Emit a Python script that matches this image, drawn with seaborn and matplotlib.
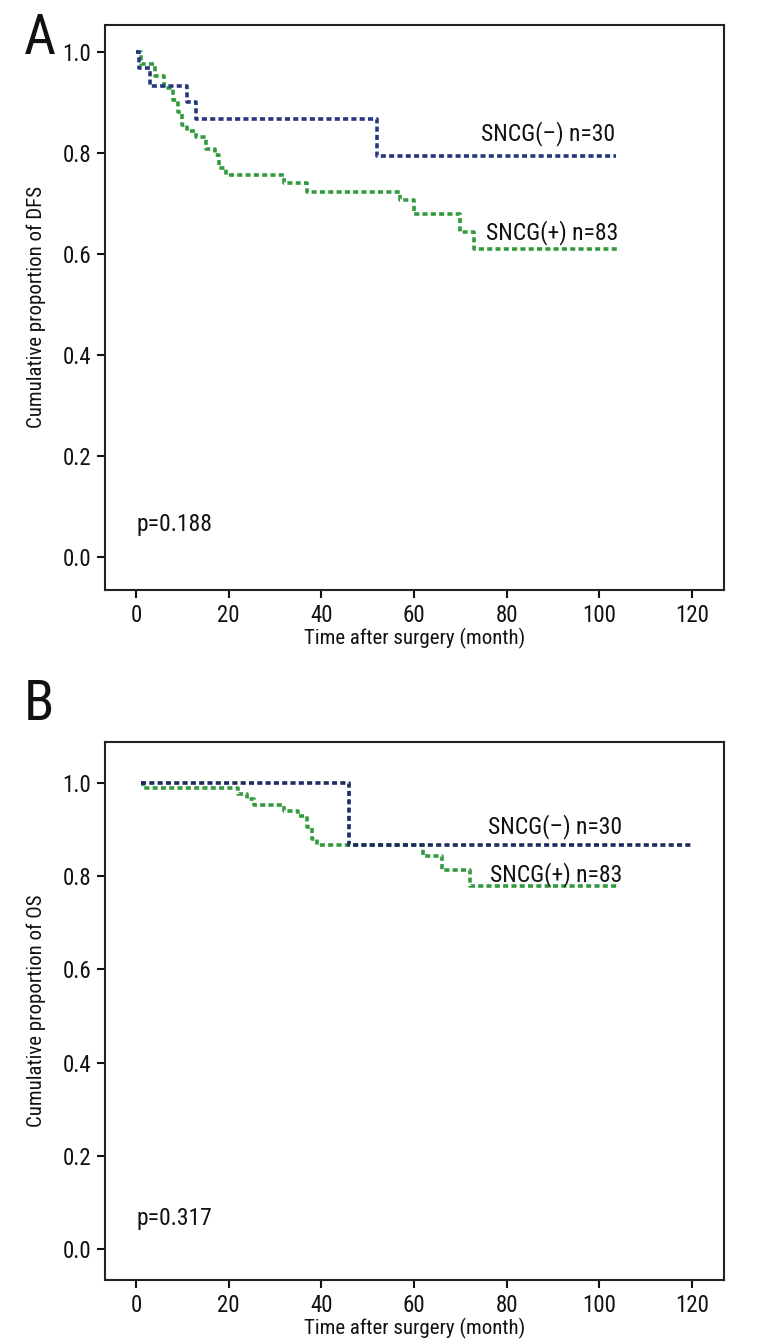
import matplotlib
matplotlib.use("Agg")
import matplotlib.pyplot as plt
from matplotlib import font_manager as fm
import seaborn as sns

sns.set_theme(style="white")

# choose a condensed face if one is installed
_fam = None
_stretch = 'normal'
_names = sorted({f.name for f in fm.fontManager.ttflist})
for pref in ['Liberation Sans Narrow', 'Roboto Condensed', 'Open Sans Condensed',
             'DejaVu Sans Condensed', 'Noto Sans Condensed']:
    if pref in _names:
        _fam = pref
        break
if _fam is None:
    for f in fm.fontManager.ttflist:
        n = f.name.lower()
        if ('narrow' in n or 'condensed' in n) and 'mono' not in n and 'serif' not in n:
            _fam = f.name
            break
if _fam is None:
    for f in fm.fontManager.ttflist:
        if f.name == 'DejaVu Sans' and str(f.stretch) in ('condensed', 'semi-condensed'):
            _fam = 'DejaVu Sans'
            _stretch = 'condensed'
            break
if _fam is None:
    _fam = 'Roboto'
plt.rcParams['font.family'] = [_fam, 'DejaVu Sans']
plt.rcParams['font.stretch'] = _stretch

# Panel A (DFS)
a_neg_time = [0, 0.6, 3, 11, 13, 52, 103.5]
a_neg_surv = [1.0, 0.967, 0.933, 0.900, 0.867, 0.793, 0.793]
a_pos_time = [0, 1, 4, 6, 8, 9, 10, 11, 13, 15, 17, 18, 19.5, 32, 37, 57, 60, 70, 73, 104]
a_pos_surv = [1.0, 0.976, 0.952, 0.928, 0.904, 0.880, 0.855, 0.843, 0.831, 0.807,
              0.795, 0.771, 0.756, 0.740, 0.723, 0.706, 0.679, 0.644, 0.610, 0.610]

# Panel B (OS)
b_neg_time = [1, 46, 120]
b_neg_surv = [1.0, 0.867, 0.867]
b_pos_time = [1, 1.5, 22, 24, 25.5, 32, 35, 37, 38, 39, 62, 66, 72, 104]
b_pos_surv = [1.0, 0.988, 0.976, 0.964, 0.952, 0.940, 0.928, 0.904, 0.880, 0.867,
              0.843, 0.812, 0.778, 0.778]

x_ticks = [0, 20, 40, 60, 80, 100, 120]
y_ticks = [0.0, 0.2, 0.4, 0.6, 0.8, 1.0]

blue = "#27377f"
blue_b = "#1c2a5e"
green = "#339b3f"

fig = plt.figure(figsize=(7.68, 13.44), dpi=100)
axA = fig.add_axes([0.1367, 1 - 590 / 1344, 0.806, (590 - 25) / 1344])
axB = fig.add_axes([0.1367, 1 - 1280 / 1344, 0.806, (1280 - 742) / 1344])

dot = (0, (1.4, 0.9))

def draw(ax, nt, ns, pt, ps, cneg, ylab, ylim, ptxt, neg_xy, pos_xy):
    sns.lineplot(x=pt, y=ps, ax=ax, drawstyle="steps-post", estimator=None,
                 sort=False, color=green, linewidth=2.6, linestyle=dot)
    sns.lineplot(x=nt, y=ns, ax=ax, drawstyle="steps-post", estimator=None,
                 sort=False, color=cneg, linewidth=2.6, linestyle=dot)
    ax.set_xlim(-6.7, 126.9)
    ax.set_ylim(*ylim)
    ax.set_xticks(x_ticks)
    ax.set_xticklabels([str(t) for t in x_ticks])
    ax.set_yticks(y_ticks)
    ax.set_yticklabels([f"{t:.1f}" for t in y_ticks])
    ax.tick_params(axis='both', which='both', direction='out', length=6, width=1.5,
                   labelsize=16.5, colors='#111111', bottom=True, left=True, pad=4)
    for s in ax.spines.values():
        s.set_visible(True)
        s.set_color('#222222')
        s.set_linewidth(1.5)
    ax.set_xlabel("Time after surgery (month)", fontsize=15, color='#111111', labelpad=1)
    ax.set_ylabel(ylab, fontsize=15, color='#111111', labelpad=12)
    ax.text(0, 0.065, ptxt, fontsize=17, color='#111111', ha='left', va='center')
    ax.text(neg_xy[0], neg_xy[1], "SNCG(\u2013) n=30", fontsize=17, color='#111111',
            ha='right', va='center')
    ax.text(pos_xy[0], pos_xy[1], "SNCG(+) n=83", fontsize=17, color='#111111',
            ha='right', va='center')

draw(axA, a_neg_time, a_neg_surv, a_pos_time, a_pos_surv, blue,
     "Cumulative proportion of DFS", (-0.065, 1.053), "p=0.188",
     (103.5, 0.838), (104, 0.642))
draw(axB, b_neg_time, b_neg_surv, b_pos_time, b_pos_surv, blue_b,
     "Cumulative proportion of OS", (-0.066, 1.087), "p=0.317",
     (105, 0.905), (105, 0.803))

fig.text(24 / 768, 1 - 38 / 1344, "A", fontsize=40, ha='left', va='center', color='#111111')
fig.text(24 / 768, 1 - 705 / 1344, "B", fontsize=40, ha='left', va='center', color='#111111')

fig.savefig("out.png", dpi=100)
